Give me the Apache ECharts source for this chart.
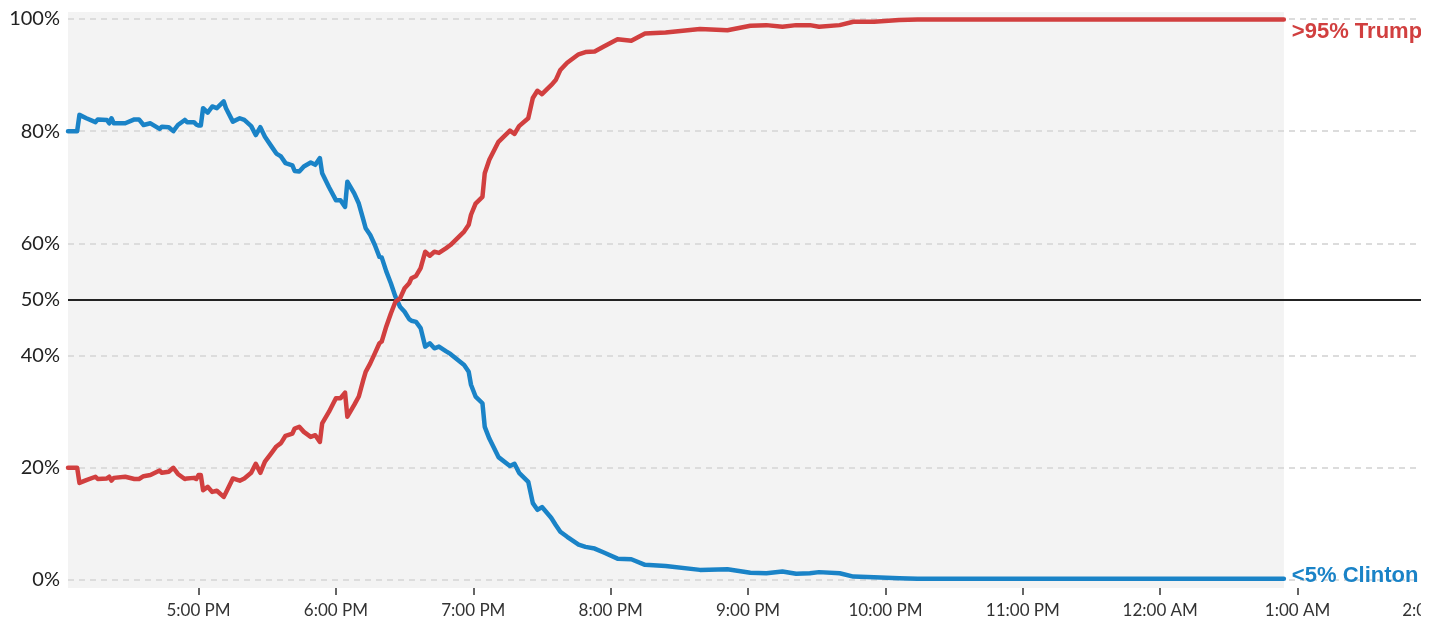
<!DOCTYPE html>
<html><head><meta charset="utf-8">
<script src="https://cdn.jsdelivr.net/npm/echarts@6/dist/echarts.min.js"></script>
<style>html,body{margin:0;padding:0;background:#fff}#chart{width:1440px;height:625px}</style>
</head><body><div id="chart"></div>
<script>
// ---- data ----
const times = [
  '16:03','16:07','16:08','16:11','16:15','16:16','16:20','16:21','16:22','16:23',
  '16:28','16:32','16:34','16:36','16:39','16:43','16:44','16:47','16:49','16:51',
  '16:54','16:55','16:58','16:59','17:00','17:01','17:02','17:04','17:06','17:08',
  '17:11','17:12','17:15','17:18','17:20','17:23','17:25','17:27','17:29','17:32',
  '17:34','17:36','17:38','17:41','17:42','17:44','17:46','17:49','17:51','17:53',
  '17:54','17:57','18:00','18:02','18:04','18:05','18:08','18:10','18:12','18:13',
  '18:15','18:17','18:19','18:20','18:22','18:24','18:26','18:28','18:30','18:32',
  '18:33','18:35','18:37','18:39','18:41','18:43','18:45','18:48','18:50','18:53',
  '18:56','18:58','18:59','19:01','19:04','19:05','19:07','19:11','19:16','19:18',
  '19:20','19:24','19:26','19:28','19:30','19:34','19:36','19:38','19:41','19:46',
  '19:49','19:53','19:57','20:03','20:09','20:15','20:24','20:39','20:51','21:01',
  '21:08','21:15','21:21','21:27','21:31','21:40','21:46','21:55','22:06','22:14',
  '23:00','00:00','00:54'
];
const trump = [
  20.0,20.0,17.3,17.8,18.4,18.0,18.1,18.4,17.7,18.2,
  18.4,18.0,18.0,18.5,18.7,19.5,19.1,19.3,20.0,18.9,
  18.0,18.1,18.2,18.0,18.7,18.7,16.0,16.6,15.7,15.9,
  14.8,15.6,18.1,17.7,18.1,19.1,20.7,19.1,21.1,22.7,
  23.8,24.4,25.7,26.1,27.0,27.3,26.4,25.5,25.8,24.6,
  27.9,30.0,32.4,32.4,33.4,29.1,31.2,32.7,35.7,37.1,
  38.6,40.4,42.2,42.5,45.2,47.5,49.6,50.2,52.0,52.9,
  53.8,54.2,55.6,58.5,57.8,58.5,58.3,59.1,59.7,60.9,
  62.1,63.3,65.1,67.1,68.3,72.5,74.9,78.1,80.1,79.5,
  80.9,82.3,85.9,87.2,86.6,88.2,89.1,90.9,92.2,93.7,
  94.1,94.2,95.1,96.4,96.1,97.4,97.6,98.2,98.0,98.8,
  98.9,98.6,98.9,98.9,98.6,98.9,99.5,99.5,99.8,99.9,
  99.9,99.9,99.9
];
const clinton = [
  80.0,80.0,82.9,82.3,81.6,82.1,82.0,81.4,82.3,81.4,
  81.4,82.1,82.1,81.1,81.4,80.4,80.8,80.7,80.0,81.1,
  82.0,81.6,81.6,81.2,81.0,81.0,84.1,83.3,84.4,84.1,
  85.3,84.1,81.7,82.3,82.0,80.9,79.3,80.7,79.0,77.2,
  76.0,75.5,74.3,73.9,72.9,72.8,73.7,74.4,74.0,75.2,
  72.5,70.0,67.7,67.7,66.5,71.0,68.9,67.1,64.2,62.7,
  61.5,59.7,57.6,57.5,55.0,52.9,50.5,48.7,47.8,46.5,
  46.2,46.0,44.9,41.6,42.2,41.3,41.6,40.8,40.3,39.3,
  38.3,37.1,34.8,32.7,31.5,27.3,25.2,21.9,20.3,20.7,
  19.1,17.5,13.7,12.5,13.0,11.1,9.8,8.6,7.7,6.3,
  5.9,5.6,4.9,3.8,3.7,2.7,2.5,1.8,1.9,1.3,
  1.2,1.5,1.1,1.2,1.4,1.2,0.6,0.5,0.3,0.2,
  0.2,0.2,0.2
];
const endLabels = ['>95% Trump', '<5% Clinton'];
const xTickHours = [17, 18, 19, 20, 21, 22, 23, 24, 25, 26];
const xTickLabels = ['5:00 PM','6:00 PM','7:00 PM','8:00 PM','9:00 PM','10:00 PM','11:00 PM','12:00 AM','1:00 AM','2:00 AM'];
const yGridValues = [0, 20, 40, 60, 80, 100];
const yMidValue = 50;
const yLabelValues = [0, 20, 40, 50, 60, 80, 100];

// ---- helpers ----
function toHours(s) {
  const [h, m] = s.split(':').map(Number);
  return (h < 12 ? h + 24 : h) + m / 60;
}
const xs = times.map(toHours);
const trumpData = xs.map((x, i) => [x, trump[i]]);
const clintonData = xs.map((x, i) => [x, clinton[i]]);

const RED = '#d13f3f', BLUE = '#1a83c7';

const chart = echarts.init(document.getElementById('chart'), null, {renderer: 'canvas'});
chart.setOption({
  animation: false,
  backgroundColor: '#ffffff',
  grid: {left: 68, right: 5, top: 12, bottom: 37, containLabel: false, outerBoundsMode: 'none'},
  xAxis: {
    type: 'value',
    min: xs[0],
    max: xTickHours[xTickHours.length - 1],
    axisLine: {show: false, onZero: false},
    splitLine: {show: false},
    axisTick: {show: true, customValues: xTickHours, length: 7, lineStyle: {color: '#333', width: 1.5}},
    axisLabel: {
      customValues: xTickHours,
      margin: 14,
      color: '#333',
      fontFamily: 'Lato',
      fontSize: 17,
      formatter: v => xTickLabels[xTickHours.indexOf(Math.round(v))] || ''
    }
  },
  yAxis: {
    type: 'value',
    min: -1.43,
    max: 101.24,
    axisLine: {show: false},
    axisTick: {show: false},
    splitLine: {show: false},
    axisLabel: {
      customValues: yLabelValues,
      margin: 8,
      color: '#222',
      fontFamily: 'Lato',
      fontSize: 20,
      formatter: '{value}%'
    }
  },
  series: [
    {
      type: 'line', z: 0, data: [], silent: true,
      markArea: {
        silent: true,
        itemStyle: {color: '#f3f3f3'},
        data: [[{xAxis: xs[0], yAxis: -1.43}, {xAxis: xs[xs.length - 1], yAxis: 101.24}]]
      }
    },
    {
      type: 'line', z: 1, data: [], silent: true,
      markLine: {
        silent: true, symbol: 'none', label: {show: false},
        data: yGridValues.map(v => ({yAxis: v, lineStyle: {color: '#dcdcdc', width: 2, type: [6, 5]}}))
          .concat([{yAxis: yMidValue, lineStyle: {color: '#222', width: 2, type: 'solid'}}])
      }
    },
    {
      name: 'Clinton', type: 'line', zlevel: 1, z: 3, data: clintonData, showSymbol: false, symbol: 'none',
      lineStyle: {color: BLUE, width: 4.5, join: 'round', cap: 'round'},
      endLabel: {show: true, formatter: () => endLabels[1], color: BLUE, fontFamily: 'Liberation Sans',
        fontWeight: 'bold', fontSize: 22, distance: 8, offset: [0, -3]}
    },
    {
      name: 'Trump', type: 'line', zlevel: 1, z: 4, data: trumpData, showSymbol: false, symbol: 'none',
      lineStyle: {color: RED, width: 4.5, join: 'round', cap: 'round'},
      endLabel: {show: true, formatter: () => endLabels[0], color: RED, fontFamily: 'Liberation Sans',
        fontWeight: 'bold', fontSize: 22, distance: 8, offset: [0, 12]}
    }
  ],
  graphic: [{
    type: 'rect', left: 1421, top: 0, zlevel: 2, z: 100,
    shape: {width: 19, height: 625}, style: {fill: '#ffffff'}
  }]
});
</script>
</body></html>
